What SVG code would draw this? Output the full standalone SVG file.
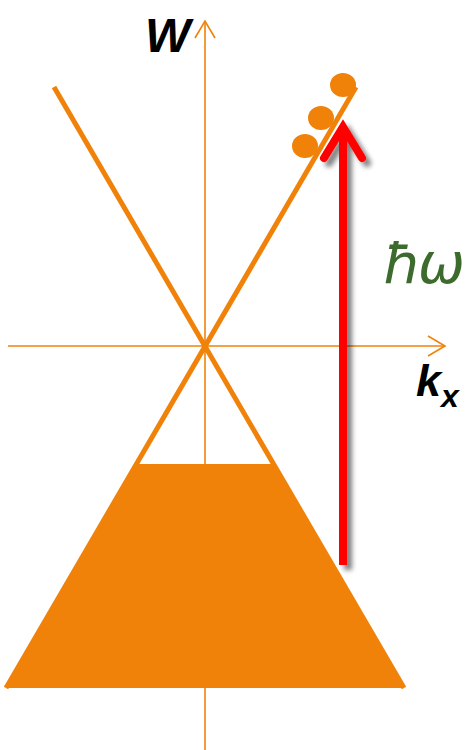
<svg xmlns="http://www.w3.org/2000/svg" width="469" height="750" viewBox="0 0 469 750">
<style>
.ax{stroke:#F0820A;stroke-width:1.6;fill:none}
.br{stroke:#F0820A;stroke-width:5;fill:none}
.dot{fill:#F0820A}
.lbl{font-family:"Liberation Sans",Arial,sans-serif;font-weight:bold;font-style:italic;fill:#000}
</style>
<defs>
<filter id="sh" x="-50%" y="-10%" width="200%" height="130%">
<feGaussianBlur in="SourceAlpha" stdDeviation="2.5"/>
<feOffset dx="5" dy="5" result="b"/>
<feComponentTransfer><feFuncA type="linear" slope="0.5"/></feComponentTransfer>
<feMerge><feMergeNode/><feMergeNode in="SourceGraphic"/></feMerge>
</filter>
</defs>
<g id="axes">
<line class="ax" x1="205" y1="750" x2="205" y2="21"/>
<polyline class="ax" points="195,38 205,21 215,38"/>
<line class="ax" x1="8" y1="346" x2="445" y2="346"/>
<polyline class="ax" points="428,336 445,346 428,356"/>
</g>
<g id="bands">
<line class="br" x1="54" y1="87" x2="404" y2="688"/>
<line class="br" x1="356" y1="87" x2="6" y2="688"/>
<polygon class="dot" points="138,464 272,464 404,688 6,688"/>
</g>
<g id="electrons">
<ellipse class="dot" cx="343" cy="85" rx="13" ry="12"/>
<ellipse class="dot" cx="321" cy="118" rx="13" ry="12"/>
<ellipse class="dot" cx="305" cy="146" rx="13" ry="12"/>
</g>
<g id="photon" filter="url(#sh)">
<line x1="343" y1="565" x2="343" y2="130" stroke="#FF0000" stroke-width="8"/>
<polyline points="324,158 343,127 362,158" stroke="#FF0000" stroke-width="8" fill="none" stroke-linecap="round" stroke-linejoin="miter"/>
</g>
<text class="lbl" x="145" y="52" font-size="48">W</text>
<text x="383" y="283" font-size="56" font-style="italic" fill="#3D6B2D" font-family="'DejaVu Sans',sans-serif" letter-spacing="-4">ħω</text>
<text class="lbl" x="416" y="396" font-size="45">k<tspan font-size="32" dy="11">x</tspan></text>
</svg>
